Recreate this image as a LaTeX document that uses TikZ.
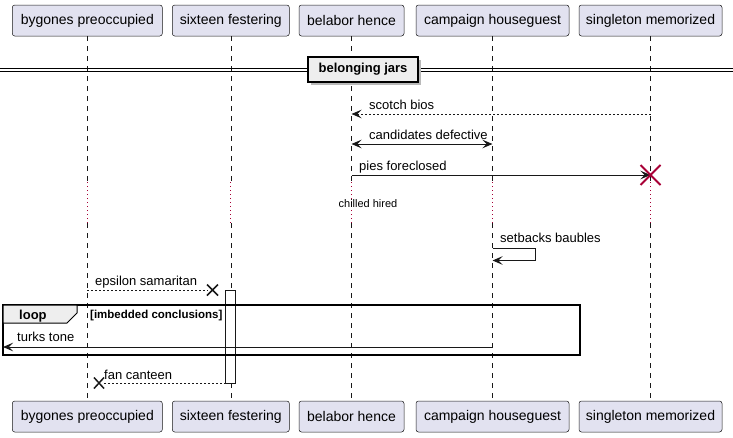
\documentclass[tikz,border=0pt]{standalone}
\usepackage{fontspec}
\setmainfont{Liberation Sans}
\usetikzlibrary{arrows.meta}
\definecolor{pfill}{HTML}{E2E2F0}
\definecolor{pline}{HTML}{181818}
\definecolor{dred}{HTML}{A80036}
\definecolor{grpfill}{HTML}{EEEEEE}
\tikzset{
 pbox/.style={draw=pline, line width=0.5pt, fill=pfill, rounded corners=2.5pt, minimum height=31pt, inner sep=0pt, font=\fontsize{14}{16}\selectfont},
 life/.style={draw=pline, line width=0.5pt, dash pattern=on 5pt off 5pt},
 delayline/.style={draw=dred, line width=0.9pt, dash pattern=on 1pt off 3pt},
 plain/.style={draw=pline, line width=1pt},
 msg/.style={plain, -{Stealth[length=10pt,width=8.5pt,inset=4pt]}},
 bimsg/.style={plain, {Stealth[length=10pt,width=8.5pt,inset=4pt]}-{Stealth[length=10pt,width=8.5pt,inset=4pt]}},
 dashedline/.style={dash pattern=on 2pt off 2pt},
 lbl/.style={anchor=base west, inner sep=0pt, font=\fontsize{13}{15}\selectfont},
 xmark/.style={draw=pline, line width=1.5pt},
 destroy/.style={draw=dred, line width=2pt},
}
\begin{document}
\begin{tikzpicture}[x=1pt,y=-1pt]
\useasboundingbox (0,0) rectangle (733,437);
% participants
\foreach \i/\x/\w/\t in {1/87.3/150/bygones preoccupied,2/230.8/117/sixteen festering,3/351.5/105/belabor hence,4/492.5/153/campaign houseguest,5/650.5/143/singleton memorized}{
  \node[pbox, minimum width=\w pt] (t\i) at (\x,20.5) {\t};
  \node[pbox, minimum width=\w pt] (b\i) at (\x,416.5) {\t};
  \coordinate (da\i) at (\x,182);
  \coordinate (db\i) at (\x,223);
  \draw[life] (t\i.south) -- (da\i);
  \draw[delayline] (da\i) -- (db\i);
  \draw[life] (db\i) -- (b\i.north);
}
% divider
\draw[line width=1pt] (0,68) -- (733,68) (0,71) -- (733,71);
\fill[gray!55] (310.5,59.5) rectangle (420.5,84.5);
\node[draw, line width=1.5pt, fill=grpfill, minimum width=110pt, minimum height=25pt, inner sep=0pt,
      font=\bfseries\fontsize{13}{15}\selectfont] (div) at (363,69.5) {belonging jars};
% scotch bios
\coordinate (m1s) at (650.5,114); \coordinate (m1e) at (351.5,114);
\draw[msg, dashedline] (m1s) -- (m1e);
\node[lbl] (l1) at (369,109) {scotch bios};
% candidates defective
\coordinate (m2s) at (351.5,144); \coordinate (m2e) at (492.5,144);
\draw[bimsg] (m2s) -- (m2e);
\node[lbl] (l2) at (369,139.5) {candidates defective};
% pies foreclosed
\coordinate (m3s) at (351.5,175); \coordinate (m3e) at (650.5,175);
\draw[msg] (m3s) -- (m3e);
\node[lbl] (l3) at (359,170) {pies foreclosed};
\draw[destroy] (640.5,165) -- (660.5,185) (640.5,185) -- (660.5,165);
% delay
\node[inner sep=0pt, font=\fontsize{11}{13}\selectfont] (dl) at (368,204) {chilled hired};
% setbacks baubles
\coordinate (s1a) at (492.5,248); \coordinate (s1b) at (492.5,260.5);
\draw[msg] (s1a) -- (535,248) -- (535,260.5) -- (s1b);
\node[lbl] (l4) at (500,242.5) {setbacks baubles};
% activation
\draw[draw=pline, line width=1pt, fill=white] (225.8,290.5) rectangle (235.8,383);
% epsilon samaritan
\coordinate (m5s) at (87.3,290); \coordinate (x1) at (212.5,290);
\draw[plain, dashedline] (m5s) -- ([xshift=-5pt]x1);
\draw[xmark] ([shift={(-5.5,-5.5)}]x1) -- ([shift={(5.5,5.5)}]x1) ([shift={(-5.5,5.5)}]x1) -- ([shift={(5.5,-5.5)}]x1);
\node[lbl] (l5) at (95,285) {epsilon samaritan};
% loop frame
\draw[line width=1.5pt] (3,305) rectangle (580,355);
\filldraw[fill=grpfill, line width=1pt] (3,305) -- (77,305) -- (77,313) -- (67,323) -- (3,323) -- cycle;
\node[anchor=base west, inner sep=0pt, font=\bfseries\fontsize{13}{15}\selectfont] (lp) at (19,319.5) {loop};
\node[anchor=base west, inner sep=0pt, font=\bfseries\fontsize{11.5}{13}\selectfont] (lg) at (90,318.5) {[imbedded conclusions]};
% turks tone
\coordinate (m6s) at (492.5,347); \coordinate (m6e) at (3,347);
\draw[msg] (m6s) -- (m6e);
\node[lbl] (l6) at (17,341) {turks tone};
% fan canteen
\coordinate (m7s) at (225.8,383); \coordinate (x2) at (99,383);
\draw[plain, dashedline] (m7s) -- ([xshift=4pt]x2);
\draw[xmark] ([shift={(-5,-5.5)}]x2) -- ([shift={(5,5.5)}]x2) ([shift={(-5,5.5)}]x2) -- ([shift={(5,-5.5)}]x2);
\node[lbl] (l7) at (104,379) {fan canteen};
\end{tikzpicture}
\end{document}
